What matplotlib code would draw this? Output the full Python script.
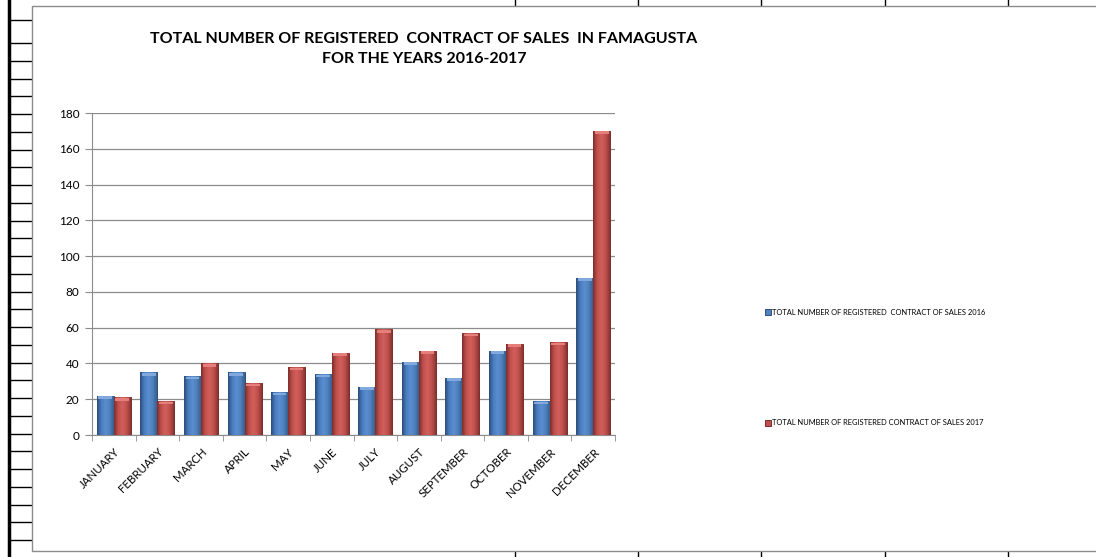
import numpy as np
import matplotlib
matplotlib.use("Agg")
import matplotlib.pyplot as plt
from matplotlib.lines import Line2D
from matplotlib.patches import Rectangle
from matplotlib.colors import LinearSegmentedColormap

plt.rcParams["font.family"] = ["Lato", "DejaVu Sans"]

months = ["JANUARY", "FEBRUARY", "MARCH", "APRIL", "MAY", "JUNE", "JULY",
          "AUGUST", "SEPTEMBER", "OCTOBER", "NOVEMBER", "DECEMBER"]
sales_2016 = [22, 35, 33, 35, 24, 34, 27, 41, 32, 47, 19, 88]
sales_2017 = [21, 19, 40, 29, 38, 46, 59, 47, 57, 51, 52, 170]
label_2016 = "TOTAL NUMBER OF REGISTERED  CONTRACT OF SALES 2016"
label_2017 = "TOTAL NUMBER OF REGISTERED CONTRACT OF SALES 2017"
title = ("TOTAL NUMBER OF REGISTERED  CONTRACT OF SALES  IN FAMAGUSTA\n"
         "FOR THE YEARS 2016-2017")

W, H = 1096, 557
fig = plt.figure(figsize=(W / 100, H / 100), dpi=100)


def fx(px):
    return px / W


def fy(py):
    return 1 - py / H


# spreadsheet background bits
grid_kw = dict(transform=fig.transFigure, color="black", lw=1.0, zorder=-2)
fig.add_artist(Line2D([fx(9), fx(9)], [0, 1], transform=fig.transFigure,
                      color="black", lw=2.5, zorder=-2))
for y in [20] + list(np.arange(43, 550, 17.75)):
    fig.add_artist(Line2D([fx(9), fx(32)], [fy(y), fy(y)], **grid_kw))
for x in [515, 638, 761, 885, 1008]:
    fig.add_artist(Line2D([fx(x), fx(x)], [1, fy(6)], **grid_kw))
    fig.add_artist(Line2D([fx(x), fx(x)], [fy(551), 0], **grid_kw))

# chart frame
fig.add_artist(Rectangle((fx(32), fy(551)), fx(1100) - fx(32), fy(6) - fy(551),
                         transform=fig.transFigure, fill=True, fc="white",
                         ec="#8c8c8c", lw=1.0, zorder=-1))

ax = fig.add_axes([fx(92), fy(435), fx(615) - fx(92), fy(113) - fy(435)])
ax.patch.set_alpha(0)
x = np.arange(len(months))
w = 0.39
b1 = ax.bar(x - w / 2, sales_2016, w, color="#4F81BD", edgecolor="#2f4f78",
            lw=0.7, label=label_2016, zorder=3)
b2 = ax.bar(x + w / 2, sales_2017, w, color="#C0504D", edgecolor="#7a2c2a",
            lw=0.7, label=label_2017, zorder=3)

# bevel-like gradient on the bars
grad = np.linspace(0, 1, 64).reshape(1, -1)
cm_b = LinearSegmentedColormap.from_list(
    "b", ["#2c4d7a", "#4a7cc0", "#5b8ed1", "#4f81bd", "#375f92"])
cm_r = LinearSegmentedColormap.from_list(
    "r", ["#7d2e2c", "#c0504d", "#d25f5b", "#c0504d", "#8a3533"])
for bars, cm, top in [(b1, cm_b, "#82a9dd"), (b2, cm_r, "#e57f7b")]:
    for p in bars:
        x0, y0 = p.get_x(), p.get_y()
        bw, bh = p.get_width(), p.get_height()
        im = ax.imshow(grad, cmap=cm, aspect="auto", zorder=3.5,
                       extent=[x0, x0 + bw, y0, y0 + bh])
        im.set_clip_path(p)
        ax.add_patch(Rectangle((x0 + bw * 0.1, y0 + bh - 1.8), bw * 0.8, 1.5,
                               fc=top, ec="none", zorder=3.6))

ax.set_xlim(-0.5, len(months) - 0.5)
ax.set_ylim(0, 180)
ax.set_yticks(np.arange(0, 181, 20))
ax.yaxis.grid(True, color="#8c8c8c", lw=0.9, zorder=0)
ax.set_axisbelow(True)
ax.set_xticks(x)
ax.set_xticklabels(months, rotation=45, ha="right", rotation_mode="anchor",
                   fontsize=8.3)
ax.set_xticks(np.arange(-0.5, len(months)), minor=True)
ax.tick_params(axis="x", which="major", length=0, pad=8)
ax.tick_params(axis="x", which="minor", length=4, color="#8c8c8c")
ax.tick_params(axis="y", length=5, color="#8c8c8c", labelsize=8.5, pad=4)
for s in ["top", "right"]:
    ax.spines[s].set_visible(False)
for s in ["left", "bottom"]:
    ax.spines[s].set_color("#8c8c8c")

fig.text(fx(424), fy(49), title, ha="center", va="center", fontsize=11.5,
         fontweight="bold", linespacing=1.55)

fig.legend(handles=[b1, b2], loc="upper left",
           bbox_to_anchor=(fx(761), fy(305)), frameon=False, fontsize=5.4,
           handlelength=0.8, handleheight=0.8, handletextpad=0.1,
           labelspacing=13.8, borderpad=0)

fig.savefig("out.png", dpi=100)
